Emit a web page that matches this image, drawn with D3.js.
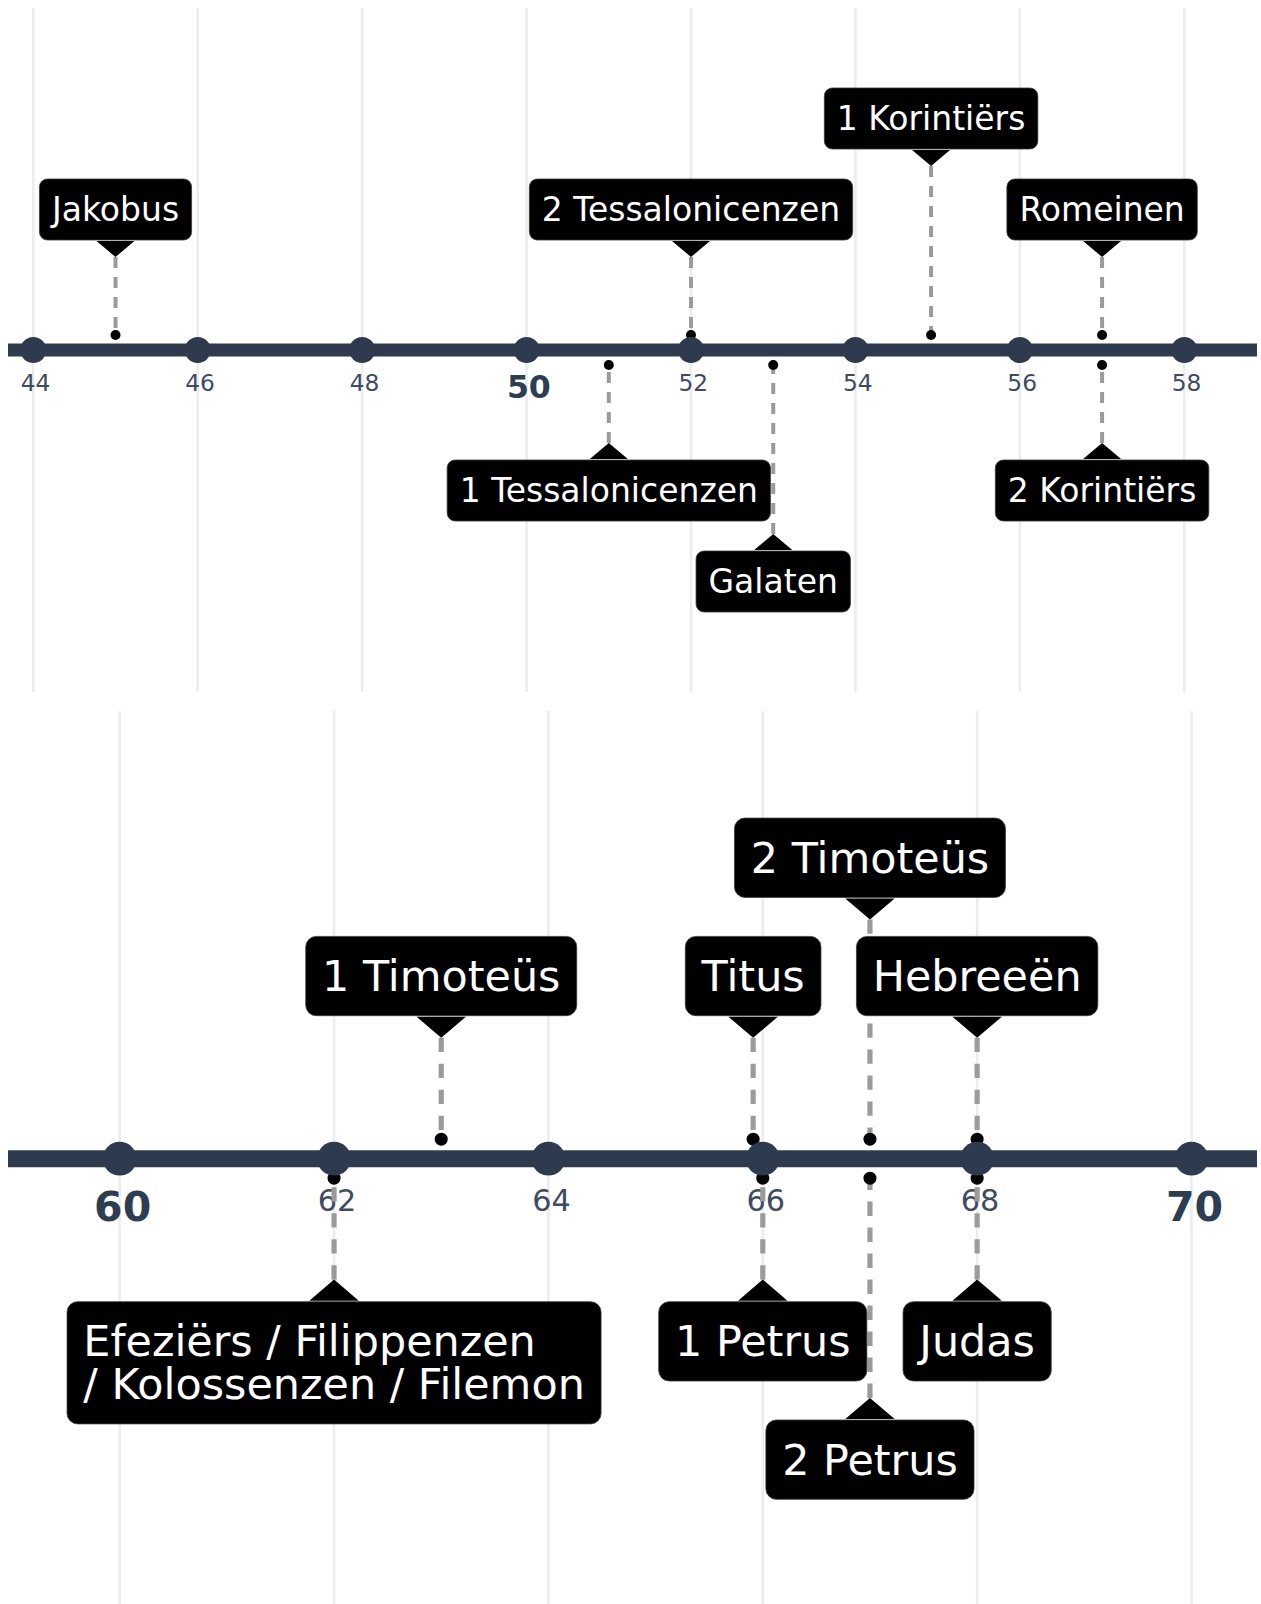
<!DOCTYPE html>
<html>
<head>
<meta charset="utf-8">
<script src="https://cdn.jsdelivr.net/npm/d3@7"></script>
<style>
  html, body { margin: 0; padding: 0; background: #ffffff; }
  svg { display: block; }
</style>
</head>
<body>
<svg id="chart" width="1261" height="1604"></svg>
<script>
// ---------- DATA ----------
// Panel 1 (44 - 58 n.Chr.)
const panel1Ticks  = [44, 46, 48, 50, 52, 54, 56, 58];
const panel1Bold   = [50];
const panel1Names  = ["Jakobus", "2 Tessalonicenzen", "1 Korintiërs", "Romeinen",
                      "1 Tessalonicenzen", "Galaten", "2 Korintiërs"];
const panel1Years  = [45, 52, 54.92, 57, 51, 53, 57];
const panel1Sides  = ["up", "up", "up", "up", "down", "down", "down"];
const panel1Levels = [1, 1, 2, 1, 1, 2, 1];

// Panel 2 (60 - 70 n.Chr.)
const panel2Ticks  = [60, 62, 64, 66, 68, 70];
const panel2Bold   = [60, 70];
const panel2Names  = ["1 Timoteüs", "Titus", "2 Timoteüs", "Hebreeën",
                      "Efeziërs / Filippenzen\n/ Kolossenzen / Filemon", "1 Petrus", "2 Petrus", "Judas"];
const panel2Years  = [63, 65.91, 67, 68, 62, 66, 67, 68];
const panel2Sides  = ["up", "up", "up", "up", "down", "down", "down", "down"];
const panel2Levels = [1, 1, 2, 1, 1, 1, 2, 1];

// ---------- DRAWING ----------
const svg = d3.select("#chart");
const FONT = "'DejaVu Sans', 'Noto Sans', sans-serif";
const LINE_COLOR = "#2e3b4e";

function drawPanel(cfg) {
  const { ticks, bold, names, years, sides, levels, x, lineY, k, gridTop, gridBottom, x0, x1 } = cfg;
  const g = svg.append("g");

  // grid lines
  g.append("g").selectAll("line").data(ticks).join("line")
    .attr("x1", d => x(d)).attr("x2", d => x(d))
    .attr("y1", gridTop).attr("y2", gridBottom)
    .attr("stroke", "#ececec").attr("stroke-width", 2.5);

  // tick labels
  g.append("g").selectAll("text").data(ticks).join("text")
    .attr("x", d => x(d) + 2.3 * k)
    .attr("y", d => bold.includes(d) ? lineY + 48 * k : lineY + 40.5 * k)
    .attr("text-anchor", "middle")
    .attr("font-family", FONT)
    .attr("font-size", d => bold.includes(d) ? 31.6 * k : 23.3 * k)
    .attr("font-weight", d => bold.includes(d) ? "bold" : "normal")
    .attr("fill", d => bold.includes(d) ? "#2c3e50" : "#3d4c61")
    .text(d => d);

  const events = names.map((n, i) => ({ name: n, year: years[i], side: sides[i], level: levels[i] }));
  const dirOf = d => d.side === "up" ? -1 : 1;

  // connectors (dashed) and dots
  const connG = g.append("g");
  connG.selectAll("line").data(events).join("line")
    .attr("x1", d => x(d.year)).attr("x2", d => x(d.year))
    .attr("y1", d => lineY + dirOf(d) * (93 + 91 * (d.level - 1)) * k)
    .attr("y2", d => lineY + dirOf(d) * 15 * k)
    .attr("stroke", "#9b9b9b").attr("stroke-width", 4 * k)
    .attr("stroke-dasharray", `${11 * k},${9 * k}`);
  connG.selectAll("circle").data(events).join("circle")
    .attr("cx", d => x(d.year))
    .attr("cy", d => lineY + dirOf(d) * 15 * k)
    .attr("r", 5 * k).attr("fill", "#000000");

  // label boxes
  const fs = 33 * k;
  const pad = 12.5 * k;
  const lineH = 1.0 * fs;
  const boxG = g.append("g");

  events.forEach(ev => {
    const ex = x(ev.year);
    const dir = dirOf(ev);
    const tipOff = (93 + 91 * (ev.level - 1)) * k;
    const edgeOff = tipOff + 17 * k;
    const tipY = lineY + dir * tipOff;
    const edgeY = lineY + dir * edgeOff;
    const lines = ev.name.split("\n");
    const boxH = 61 * k + (lines.length - 1) * lineH;

    const eg = boxG.append("g");
    const rect = eg.append("rect");
    const tri = eg.append("path");
    const txt = eg.append("g");
    const tnodes = lines.map(l => txt.append("text")
      .attr("font-family", FONT).attr("font-size", fs).attr("fill", "#ffffff").text(l));
    const maxW = d3.max(tnodes, t => t.node().getComputedTextLength());
    const w = maxW + 2 * pad;
    const bx = ex - w / 2;
    const by = ev.side === "up" ? edgeY - boxH : edgeY;
    rect.attr("x", bx).attr("y", by).attr("width", w).attr("height", boxH)
      .attr("rx", 8 * k).attr("ry", 8 * k)
      .attr("fill", "#000000").attr("stroke", "#3a3a3a").attr("stroke-width", 0.8);
    const hw = 19 * k;
    tri.attr("d", `M${ex - hw},${edgeY - dir * 1}L${ex + hw},${edgeY - dir * 1}L${ex},${tipY}Z`)
      .attr("fill", "#000000");
    const cy = by + boxH / 2;
    tnodes.forEach((t, i) => {
      t.attr("x", bx + pad)
       .attr("y", cy + 0.35 * fs + (i - (lines.length - 1) / 2) * lineH);
    });
  });

  // axis line and tick circles
  g.append("line")
    .attr("x1", x0).attr("x2", x1).attr("y1", lineY).attr("y2", lineY)
    .attr("stroke", LINE_COLOR).attr("stroke-width", 13 * k);
  g.append("g").selectAll("circle").data(ticks).join("circle")
    .attr("cx", d => x(d)).attr("cy", lineY).attr("r", 13 * k)
    .attr("fill", LINE_COLOR);
}

const xTop = d3.scaleLinear().domain([44, 58]).range([33.3, 1184.3]);
const xBottom = d3.scaleLinear().domain([60, 70]).range([119.7, 1191.5]);

drawPanel({
  ticks: panel1Ticks, bold: panel1Bold, names: panel1Names, years: panel1Years,
  sides: panel1Sides, levels: panel1Levels, x: xTop, lineY: 350, k: 1,
  gridTop: 8, gridBottom: 692, x0: 8, x1: 1257
});
drawPanel({
  ticks: panel2Ticks, bold: panel2Bold, names: panel2Names, years: panel2Years,
  sides: panel2Sides, levels: panel2Levels, x: xBottom, lineY: 1158.7, k: 1.3,
  gridTop: 711, gridBottom: 1604, x0: 8, x1: 1257
});
</script>
</body>
</html>
